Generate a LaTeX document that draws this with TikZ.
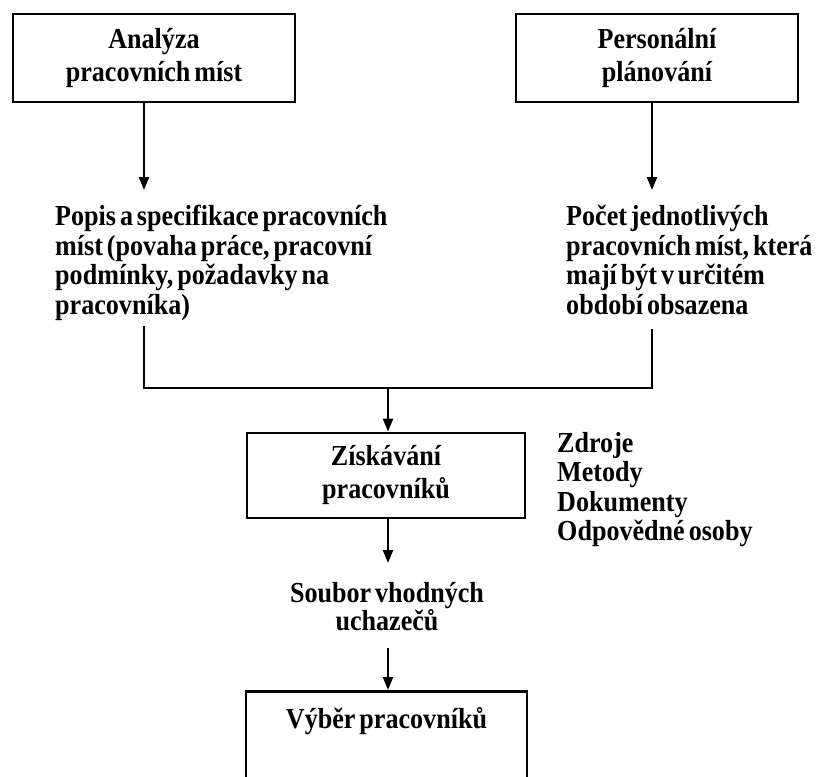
\documentclass[tikz,border=0pt]{standalone}
\usepackage{fontspec}
\setmainfont{Liberation Serif}[FakeStretch=0.9, WordSpace=0.6]
\usetikzlibrary{arrows.meta,positioning,calc}

\tikzset{
  box/.style={draw, line width=2.8pt, inner sep=4pt,
    font=\bfseries\fontsize{29}{33}\selectfont},
  desc/.style={inner sep=0pt, align=left,
    font=\bfseries\fontsize{29}{29.5}\selectfont},
  link/.style={line width=2.4pt},
}

\begin{document}
\begin{tikzpicture}[x=1pt, y=-1pt, >={Triangle[length=13pt,width=10pt]}]
    \clip (0,0) rectangle (818,776);
    \useasboundingbox (0,0) rectangle (818,776);

    % top boxes
    \node[box, align=center, minimum width=282pt, minimum height=88pt] (ana) at (154,58)
        {Analýza\\pracovních míst};
    \node[box, align=center, minimum width=282pt, minimum height=88pt] (plan) at (657,58)
        {Personální\\plánování};

    % descriptions
    \node[desc, anchor=north west] (popis) at (55,205)
        {Popis a specifikace pracovních\\míst (povaha práce, pracovní\\podmínky, požadavky na\\pracovníka)};
    \node[desc, anchor=north west] (pocet) at (566,205)
        {Počet jednotlivých\\pracovních míst, která\\mají být v určitém\\období obsazena};

    \draw[link, ->] ([xshift=-10pt]ana.south) -- ([xshift=-10pt,yshift=15pt]ana.south |- popis.north);
    \draw[link, ->] ([xshift=-5pt]plan.south) -- ([xshift=-5pt,yshift=15pt]plan.south |- pocet.north);

    % middle
    \coordinate (spoj) at (388,388);
    \node[box, align=center, minimum width=278pt, minimum height=85pt] (zisk) at (386,475.5)
        {Získávání\\pracovníků};
    \node[desc, anchor=north west] (zdroje) at (557,432)
        {Zdroje\\Metody\\Dokumenty\\Odpovědné osoby};

    \draw[link] ([xshift=-10pt,yshift=-6pt]ana.south |- popis.south) -- ([xshift=-10pt]ana.south |- spoj)
        -- ([xshift=-5pt]plan.south |- spoj) -- ([xshift=-5pt,yshift=-14pt]plan.south |- pocet.south);
    \draw[link, ->] (spoj) -- (spoj |- zisk.north);

    % bottom
    \node[desc, align=center, anchor=north, font=\bfseries\fontsize{29}{28}\selectfont] (soubor) at (387,582)
        {Soubor vhodných\\uchazečů};
    \node[box, anchor=north, minimum width=281pt, inner ysep=6pt, text height=31pt, text depth=100pt] (vyber) at (386.5,690)
        {Výběr pracovníků};

    \draw[link, ->] (spoj |- zisk.south) -- ([yshift=19pt]spoj |- soubor.north);
    \draw[link, ->] ([yshift=-17pt]spoj |- soubor.south) -- (spoj |- vyber.north);
\end{tikzpicture}
\end{document}
